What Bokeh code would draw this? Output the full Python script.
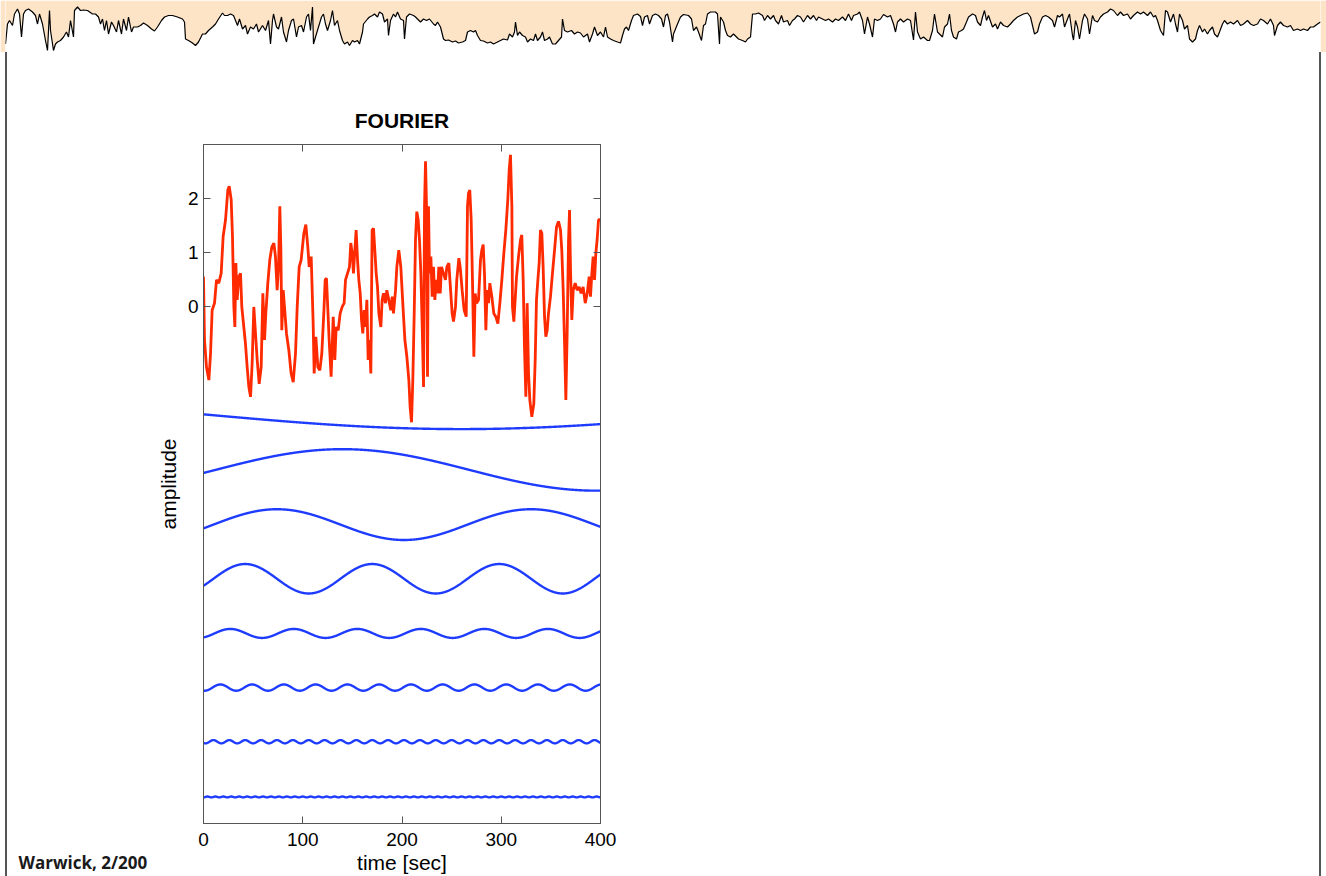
import numpy as np
from bokeh.plotting import figure
from bokeh.models import Range1d, LinearAxis, FixedTicker, Spacer
from bokeh.core.properties import value
from bokeh.layouts import column, row
from bokeh.embed import file_html
from bokeh.resources import INLINE

# ---------------------------------------------------------------------------
# Banner signal (arbitrary units, 0 = bottom of the strip, 1 = top)
# ---------------------------------------------------------------------------
hdr_t = [
    5, 7, 9, 12, 14, 17, 19, 21, 23, 25,
    28, 32, 35, 37, 39, 42, 45, 47, 49, 50,
    53, 55, 57, 60, 63, 66, 68, 70, 73, 74,
    77, 80, 83, 87, 92, 95, 98, 100, 102, 104,
    106, 108, 111, 113, 116, 118, 121, 123, 126, 128,
    131, 133, 137, 140, 143, 147, 151, 154, 157, 161,
    164, 168, 172, 177, 182, 184, 185, 188, 192, 195,
    198, 202, 205, 208, 212, 215, 218, 222, 224, 227,
    230, 233, 237, 239, 242, 245, 247, 250, 253, 256,
    258, 262, 265, 268, 270, 272, 273, 276, 278, 281,
    283, 286, 288, 291, 293, 296, 298, 301, 303, 306,
    308, 310, 312, 313, 315, 318, 321, 323, 325, 327,
    330, 332, 334, 337, 339, 342, 344, 347, 349, 352,
    354, 357, 359, 362, 363, 367, 369, 372, 374, 377,
    379, 382, 384, 387, 388, 390, 393, 395, 397, 400,
    403, 404, 406, 409, 413, 415, 417, 420, 423, 426,
    429, 433, 435, 437, 440,
    443, 445, 448, 452, 455, 458, 462, 465, 467, 470,
    473, 475, 477, 480, 483, 487, 490, 493, 497, 500,
    503, 507, 509, 512, 514, 515, 517, 519, 522, 525,
    527, 530, 533, 535, 537, 540, 542, 544, 547, 549,
    552, 555, 558, 561, 562, 564, 567, 571, 574, 577,
    580, 583, 587, 589, 592, 594, 597, 600, 603, 605,
    607, 610, 613, 617, 620, 622, 624, 626, 628, 631,
    633, 637, 640, 642, 644, 647, 649, 652, 655, 658,
    661, 663, 665, 667, 669, 672, 673, 677, 680, 683,
    688, 691, 693, 696, 698, 701, 703, 705, 707, 710,
    715, 717, 719, 720, 723, 725, 727, 730, 733, 736,
    738, 742, 745, 747, 750, 752, 755, 758, 762, 764,
    767, 770, 773, 775, 778, 781, 783, 787, 789, 792,
    794, 797, 800, 803, 807, 810, 813, 816, 818, 822,
    825, 828, 832, 835, 838, 842, 845, 848, 851, 853,
    857, 859, 862, 864, 867, 869, 872, 874, 877, 880,
    883, 887, 890, 893, 895, 897, 900, 903, 907, 910,
    913, 915, 917, 920, 923, 927, 929, 932, 934, 937,
    939, 942, 944, 947, 949, 951, 953, 956, 958, 961,
    963, 966, 968, 972, 975, 977, 980, 982, 984, 986,
    988, 992, 995, 997, 1000, 1003, 1007, 1010, 1013, 1017,
    1020, 1023, 1027, 1030, 1032, 1034, 1037, 1039, 1042, 1045,
    1048, 1052, 1054, 1057, 1059, 1062, 1064, 1067, 1069, 1072,
    1073, 1075, 1077, 1079, 1082, 1084, 1087, 1089, 1092, 1094,
    1097, 1100, 1103, 1107, 1110, 1113, 1117, 1120, 1123, 1127,
    1130, 1133, 1137, 1140, 1143, 1147, 1150, 1153, 1155, 1157,
    1160, 1163, 1165, 1167, 1170, 1173, 1175, 1177, 1179, 1182,
    1184, 1187, 1189, 1192, 1195, 1197, 1199, 1202, 1204, 1207,
    1209, 1212, 1214, 1217, 1219, 1222, 1224, 1227, 1230, 1233,
    1237, 1240, 1243, 1247, 1250, 1253, 1257, 1260, 1263, 1267,
    1270, 1273, 1274, 1277, 1280, 1283, 1287, 1290, 1293, 1297,
    1300, 1303, 1307, 1310, 1313, 1317, 1320,
]
hdr_v = [
    .13, .53, .60, .50, .73, .83, .73, .27, .73, .80,
    .83, .77, .70, .53, .73, .53, .20, .00, .80, .40,
    .00, .13, .17, .20, .27, .37, .27, .60, .27, .80,
    .87, .80, .81, .80, .73, .73, .67, .53, .63, .40,
    .60, .33, .57, .50, .37, .60, .33, .63, .40, .67,
    .37, .47, .47, .50, .55, .50, .43, .39, .47, .60,
    .67, .70, .70, .67, .63, .57, .23, .20, .15, .10,
    .17, .33, .33, .40, .47, .53, .63, .75, .70, .70,
    .73, .70, .50, .63, .43, .50, .33, .47, .43, .53,
    .37, .50, .40, .60, .13, .60, .73, .47, .43, .67,
    .37, .17, .40, .60, .63, .27, .47, .50, .37, .67,
    .73, .40, .87, .13, .27, .47, .67, .73, .53, .40,
    .60, .80, .50, .60, .40, .20, .13, .17, .10, .20,
    .17, .20, .13, .37, .53, .63, .67, .70, .73, .67,
    .77, .73, .57, .63, .30, .60, .73, .67, .77, .63,
    .60, .23, .67, .73, .70, .67, .63, .57, .63, .60,
    .63, .53, .50, .57, .47,
    .23, .20, .21, .17, .19, .15, .17, .20, .37, .40,
    .37, .40, .30, .20, .19, .15, .17, .13, .17, .20,
    .23, .21, .33, .27, .37, .57, .30, .37, .30, .27,
    .17, .23, .20, .33, .20, .27, .37, .20, .23, .27,
    .13, .13, .20, .27, .63, .40, .37, .40, .33, .37,
    .35, .27, .33, .17, .33, .47, .30, .37, .27, .47,
    .27, .23, .20, .17, .15, .30, .43, .47, .40, .60,
    .70, .73, .68, .50, .67, .70, .53, .70, .73, .70,
    .63, .47, .70, .73, .57, .17, .33, .53, .67, .72,
    .70, .63, .40, .47, .37, .20, .50, .53, .73, .77,
    .77, .73, .13, .67, .57, .40, .30, .27, .33, .27,
    .23, .20, .17, .23, .27, .73, .73, .75, .70, .60,
    .70, .63, .70, .60, .53, .70, .57, .60, .50, .60,
    .63, .70, .67, .57, .70, .63, .70, .60, .67, .63,
    .60, .63, .57, .63, .60, .67, .60, .73, .60, .70,
    .73, .77, .60, .33, .67, .53, .27, .63, .60, .63,
    .72, .67, .70, .53, .37, .57, .63, .57, .63, .60,
    .21, .77, .37, .23, .27, .20, .20, .40, .73, .37,
    .33, .27, .47, .53, .73, .40, .27, .23, .37, .40,
    .43, .57, .67, .73, .70, .57, .50, .67, .80, .60,
    .70, .47, .53, .43, .57, .50, .47, .53, .60, .67,
    .70, .73, .75, .67, .50, .33, .37, .53, .67, .70,
    .67, .60, .47, .70, .67, .73, .47, .63, .73, .30,
    .21, .60, .47, .23, .60, .73, .63, .33, .70, .60,
    .57, .67, .73, .77, .83, .80, .70, .77, .70, .73,
    .63, .70, .77, .73, .77, .70, .77, .67, .70, .60,
    .40, .30, .80, .77, .57, .73, .53, .37, .73, .60,
    .43, .50, .23, .17, .23, .40, .50, .37, .43, .33,
    .40, .47, .33, .27, .37, .53, .60, .53, .57, .53,
    .60, .50, .53, .60, .53, .50, .53, .63, .60, .53,
    .63, .50, .30, .50, .57, .50, .47, .50, .40, .43,
    .40, .43, .40, .47, .47, .53, .57,
]

# ---------------------------------------------------------------------------
# Measured signal (time in s, amplitude)
# ---------------------------------------------------------------------------
red_t = [
    0, 1, 3, 5.4, 7.1, 8.7, 11.1, 13.1, 15.4, 17.8,
    19.8, 22.2, 24.5, 25.9, 27.9, 29.2, 30.6, 31.6, 32.6, 33.9,
    35.6, 37.3, 38.6, 40.6, 42.3, 44.0, 45.7, 47.4, 49.0, 50.7,
    52.4, 54.1, 56.1, 58.1, 59.8, 61.5, 62.8, 64.8, 66.8, 68.9,
    70.9, 72.5, 74.2, 75.6, 76.9, 77.9, 78.9, 80.3, 81.6, 83.6,
    86.0, 88.3, 90.4, 92.7, 94.4, 96.4, 98.4, 101.1, 103.1, 105.1,
    106.5, 108.5, 110.5, 111.5, 113.2, 115.2, 117.2, 119.2, 121.2, 122.6,
    123.9, 125.3, 126.6, 128.6, 130.7, 132.3, 133.7, 135.7, 137.7, 139.7,
    141.7, 143.1, 145.1, 147.1, 148.4, 149.8, 151.1, 152.5, 153.8, 155.2,
    156.5, 157.9, 159.2, 160.5, 161.9, 163.2, 164.6, 165.9, 167.3, 168.6,
    169.9, 171.3, 172.6, 174.0, 175.3, 176.7, 178.7, 180.0, 181.4, 183.4,
    184.7, 186.7, 188.7, 190.1, 191.4, 193.5, 194.8, 196.8, 198.8, 200.8,
    202.9, 204.9, 206.9, 208.2, 209.6, 210.9, 212.3, 213.6, 214.9, 216.3,
    217.6, 219.0, 220.3, 221.7, 222.7, 223.7, 224.7, 225.7, 226.7, 227.7,
    229.1, 230.4, 231.7, 233.1, 234.4, 235.8, 237.1, 238.5, 239.8, 241.8,
    243.8, 245.2, 247.2, 248.5, 250.5, 251.9, 253.9, 255.2, 257.3, 258.6,
    260.6, 262.6, 264.7, 266.0, 267.0, 268.3, 269.7, 271.0, 272.4, 273.7,
    275.1, 277.1, 279.1, 280.4, 281.8, 283.1, 284.5, 285.8, 287.2, 288.5,
    290.5, 292.5, 294.5, 296.6, 298.6, 300.6, 302.6, 304.6, 306.6, 308.0,
    309.3, 310.7, 311.3, 312.7, 314.0, 315.4, 317.4, 319.4, 320.7, 322.1,
    323.4, 324.8, 326.1, 327.5, 328.8, 330.8, 332.8, 334.2, 335.5, 336.9,
    338.2, 339.5, 340.9, 342.2, 343.6, 344.9, 346.3, 347.6, 349.6, 351.6,
    353.7, 355.7, 357.7, 359.7, 361.0, 362.4, 363.7, 365.1, 366.4, 367.8,
    368.8, 369.8, 371.1, 372.5, 374.5, 376.5, 378.5, 380.5, 382.5, 384.6,
    386.6, 388.6, 389.9, 391.3, 392.6, 394.0, 395.3, 396.6, 398.0, 400.0,
]
red_v = [
    0.55, -0.62, -1.12, -1.36, -0.87, -0.07, 0.06, 0.49, 0.43, 0.61,
    1.29, 1.60, 2.15, 2.22, 1.97, 1.29, -0.01, -0.38, 0.80, 0.12,
    0.55, 0.61, -0.01, -0.38, -0.69, -1.12, -1.49, -1.67, -1.06, -0.01,
    -0.50, -0.99, -1.43, -1.12, 0.24, -0.62, -0.13, 0.43, 0.86, 1.10,
    1.17, 0.92, 0.30, 0.73, 1.85, 1.10, -0.44, 0.30, -0.01, -0.50,
    -0.81, -1.24, -1.40, -0.87, -0.01, 0.73, 0.86, 1.35, 1.51, 1.10,
    0.73, 0.92, -0.32, -1.24, -0.56, -1.12, -1.18, -0.87, -0.13, 0.49,
    0.52, -0.07, -0.62, -1.30, -0.19, -0.99, -0.38, -0.44, -0.13, -0.01,
    0.06, 0.49, 0.61, 0.73, 1.17, 0.98, 0.61, 1.04, 1.41, 0.86,
    0.49, 0.24, -0.25, -0.50, -0.07, -0.38, 0.12, -0.99, -0.62, -1.24,
    1.41, 1.44, 1.04, 0.61, 0.36, -0.13, -0.38, 0.12, 0.24, 0.06,
    0.30, 0.12, -0.07, 0.18, -0.13, 0.30, 0.73, 1.04, 0.73, 0.06,
    -0.62, -0.93, -1.36, -1.86, -2.14, -1.36, -0.13, 1.23, 1.75, 1.60,
    1.23, 0.61, -0.32, -1.49, 1.85, 2.68, 1.85, -1.30, 1.85, 0.61,
    0.92, 0.18, 0.73, 0.12, 0.49, 0.24, 0.73, 0.24, 0.73, 0.61,
    0.49, 0.73, 0.80, 0.43, -0.13, -0.28, -0.01, 0.49, 0.89, 0.73,
    0.30, -0.07, -0.19, 1.85, 2.09, 2.15, 1.60, 0.49, -0.93, 0.24,
    0.06, 0.12, 0.86, 1.04, 1.14, 0.61, -0.44, 0.30, 0.06, 0.43,
    0.18, -0.13, -0.19, -0.32, 0.06, 0.49, 0.98, 1.41, 1.97, 2.52,
    2.80, 1.85, -0.01, -0.28, 0.12, 0.55, 0.92, 1.23, 1.32, 0.49,
    -0.75, -1.67, 0.06, -1.24, -1.73, -2.04, -1.80, -0.99, 0.12, 0.49,
    0.80, 1.41, 1.35, 0.73, -0.19, -0.56, -0.44, -0.13, 0.18, 0.61,
    1.04, 1.47, 1.57, 1.41, 1.04, 0.30, -0.62, -1.73, -0.50, 1.23,
    1.78, 0.67, -0.25, 0.30, 0.43, 0.30, 0.36, 0.24, 0.36, 0.06,
    0.24, 0.55, 0.18, 0.61, 0.92, 0.49, 0.98, 1.23, 1.60, 1.60,
]

# ---------------------------------------------------------------------------
# Fourier components, stacked below the signal:
# period [s], baseline level, amplitude, time of one crest [s]
# ---------------------------------------------------------------------------
comp_period = [1024, 512, 256, 128, 64, 32, 16, 8]
comp_level = [-2.00, -3.02, -4.03, -5.03, -6.04, -7.04, -8.04, -9.06]
comp_amp = [0.266, 0.383, 0.284, 0.272, 0.083, 0.058, 0.030, 0.008]
comp_crest = [-252, 140, 74, 42, 27, 17, 10, 4]

x_ticks = [0, 100, 200, 300, 400]
y_ticks = [0, 1, 2]

credit_text = "Warwick, 2/200"

FONT = "Liberation Sans"
PEACH = "#fde4c6"
RED = "#ff2a00"
BLUE = "#1e3cff"
FRAME = "#555555"
PAGE_H = 824

# ---------------------------------------------------------------------------
# Banner strip
# ---------------------------------------------------------------------------
hdr = figure(width=1326, height=52, x_range=Range1d(5, 1320), y_range=Range1d(-0.04, 1.0),
             x_axis_type=None, y_axis_type=None, output_backend="svg",
             toolbar_location=None, min_border_left=5, min_border_right=6,
             min_border_top=0, min_border_bottom=0, border_fill_color=PEACH,
             background_fill_color="white", outline_line_color=None)
hdr.grid.visible = False
hdr.varea(x=hdr_t, y1=hdr_v, y2=1.0, fill_color=PEACH)
hdr.line(hdr_t, hdr_v, line_color="black", line_width=1.2)

# ---------------------------------------------------------------------------
# Left margin with the credit line
# ---------------------------------------------------------------------------
margin = figure(width=145, height=PAGE_H, x_range=Range1d(0, 145), y_range=Range1d(0, PAGE_H),
                x_axis_type=None, y_axis_type=None, output_backend="svg",
                toolbar_location=None, min_border=0, outline_line_color=None,
                frame_align=False)
margin.grid.visible = False
margin.text(x=[11], y=[14], text=[credit_text], text_font=value("Open Sans"),
            text_font_size="17px", text_font_style="bold", text_color="#1a1a1a",
            text_baseline="middle", text_align="left")

# ---------------------------------------------------------------------------
# FOURIER panel
# ---------------------------------------------------------------------------
p = figure(width=1167, height=PAGE_H, x_range=Range1d(0, 400), y_range=Range1d(-9.55, 2.99),
           output_backend="svg", toolbar_location=None, title="FOURIER",
           min_border_left=51, min_border_right=719, min_border_top=92,
           min_border_bottom=53, outline_line_color=FRAME, outline_line_width=1,
           background_fill_color="white", border_fill_color="white",
           frame_align=False)
p.grid.visible = False
p.title.align = "center"
p.title.text_font = FONT
p.title.text_font_size = "21px"
p.title.text_font_style = "bold"
p.title.text_color = "black"
p.title.standoff = 25


def style_axis(ax, ticks, show_labels):
    ax.ticker = FixedTicker(ticks=ticks)
    ax.major_tick_in = 7
    ax.major_tick_out = 0
    ax.minor_tick_line_color = None
    ax.axis_line_color = FRAME
    ax.major_tick_line_color = FRAME
    ax.major_label_text_font = FONT
    ax.axis_label_text_font = FONT
    ax.axis_label_text_font_size = "21px"
    ax.axis_label_text_font_style = "normal"
    ax.axis_label_text_color = "black"
    if show_labels:
        ax.major_label_text_font_size = "19px"
        ax.major_label_text_color = "black"
    else:
        ax.major_label_text_font_size = "1px"
        ax.major_label_text_color = None
        ax.major_label_standoff = 0


style_axis(p.xaxis[0], x_ticks, True)
p.xaxis[0].axis_label = "time [sec]"
p.xaxis[0].major_label_standoff = 9
p.xaxis[0].axis_label_standoff = 2
style_axis(p.yaxis[0], y_ticks, True)
p.yaxis[0].axis_label = "amplitude"

top_axis = LinearAxis()
style_axis(top_axis, x_ticks, False)
p.add_layout(top_axis, "above")
right_axis = LinearAxis()
style_axis(right_axis, y_ticks, False)
p.add_layout(right_axis, "right")

t = np.arange(0, 400.25, 0.25)
for period, level, amp, crest in zip(comp_period, comp_level, comp_amp, comp_crest):
    p.line(t, level + amp * np.cos(2 * np.pi * (t - crest) / period),
           line_color=BLUE, line_width=2.4)

p.line(red_t, red_v, line_color=RED, line_width=2.8)

# ---------------------------------------------------------------------------
# Page layout with the thin side rules
# ---------------------------------------------------------------------------
rule_l = Spacer(width=2, height=PAGE_H, styles={"background-color": FRAME})
rule_r = Spacer(width=2, height=PAGE_H, styles={"background-color": FRAME})
body = row(Spacer(width=5, height=PAGE_H), rule_l, margin, p, rule_r,
           Spacer(width=5, height=PAGE_H))
page = column(hdr, body)

open("out.html", "w").write(file_html(page, INLINE))
